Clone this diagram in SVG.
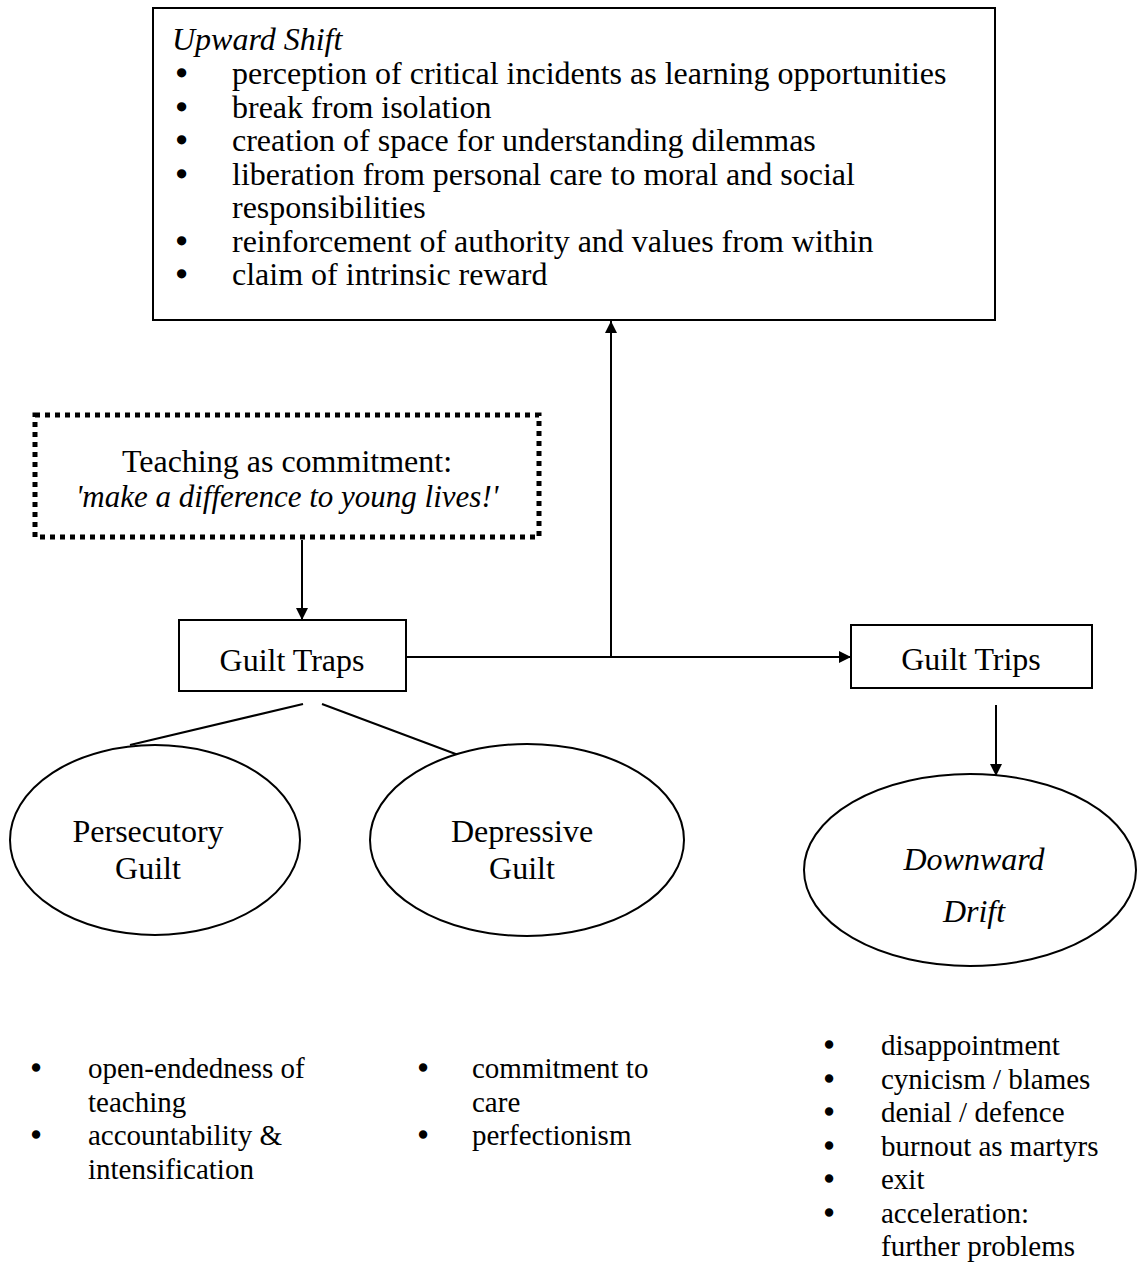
<svg xmlns="http://www.w3.org/2000/svg" width="1137" height="1263" viewBox="0 0 1137 1263">
<defs>
<style>
text{font-family:"Liberation Serif","Times New Roman",serif;font-size:32px;fill:#000}
.it{font-style:italic}
.box{fill:#fff;stroke:#000;stroke-width:2}
.dot{fill:none;stroke:#000;stroke-width:5;stroke-dasharray:5 5}
.ln{fill:none;stroke:#000;stroke-width:2}
.c{text-anchor:middle}
.b{font-size:32px;stroke:#000;stroke-width:1.6}
.s{font-size:29px}
.sb{font-size:29px;stroke:#000;stroke-width:1.4}
</style>
<marker id="ah" viewBox="0 0 10 10" refX="10" refY="5" markerWidth="12" markerHeight="12" markerUnits="userSpaceOnUse" orient="auto">
<path d="M0,0 L10,5 L0,10 z" fill="#000"/>
</marker>
</defs>
<rect width="1137" height="1263" fill="#fff"/>
<g id="connectors">
<line class="ln" x1="611" y1="657" x2="611" y2="321" marker-end="url(#ah)"/>
<line class="ln" x1="406" y1="657" x2="851" y2="657" marker-end="url(#ah)"/>
<line class="ln" x1="302" y1="540" x2="302" y2="620" marker-end="url(#ah)"/>
<line class="ln" x1="996" y1="705" x2="996" y2="776" marker-end="url(#ah)"/>
<line class="ln" x1="130" y1="745" x2="303" y2="704"/>
<line class="ln" x1="322" y1="704" x2="461" y2="756"/>
</g>
<g id="upward-shift">
<rect class="box" x="153" y="8" width="842" height="312"/>
<text class="it" x="172" y="50">Upward Shift</text>
<text class="b" x="176" y="84">•</text><text x="232" y="84">perception of critical incidents as learning opportunities</text>
<text class="b" x="176" y="118">•</text><text x="232" y="118">break from isolation</text>
<text class="b" x="176" y="151">•</text><text x="232" y="151">creation of space for understanding dilemmas</text>
<text class="b" x="176" y="185">•</text><text x="232" y="185">liberation from personal care to moral and social</text>
<text x="232" y="218">responsibilities</text>
<text class="b" x="176" y="252">•</text><text x="232" y="252">reinforcement of authority and values from within</text>
<text class="b" x="176" y="285">•</text><text x="232" y="285">claim of intrinsic reward</text>
</g>
<g id="commitment">
<rect class="dot" x="35" y="415" width="504" height="122"/>
<text class="c" x="287" y="472">Teaching as commitment:</text>
<text class="c it" x="287" y="507" style="font-size:31px">'make a difference to young lives!'</text>
</g>
<g id="guilt-traps">
<rect class="box" x="179" y="620" width="227" height="71"/>
<text class="c" x="292" y="671">Guilt Traps</text>
</g>
<g id="guilt-trips">
<rect class="box" x="851" y="625" width="241" height="63"/>
<text class="c" x="971" y="670">Guilt Trips</text>
</g>
<g id="persecutory">
<ellipse class="box" cx="155" cy="840" rx="145" ry="95"/>
<text class="c" x="148" y="842">Persecutory</text>
<text class="c" x="148" y="879">Guilt</text>
</g>
<g id="depressive">
<ellipse class="box" cx="527" cy="840" rx="157" ry="96"/>
<text class="c" x="522" y="842">Depressive</text>
<text class="c" x="522" y="879">Guilt</text>
</g>
<g id="downward-drift">
<ellipse class="box" cx="970" cy="870" rx="166" ry="96"/>
<text class="c it" x="974" y="870">Downward</text>
<text class="c it" x="974" y="922">Drift</text>
</g>
<g id="list-persecutory">
<text class="sb" x="31" y="1078">•</text><text class="s" x="88" y="1078">open-endedness of</text>
<text class="s" x="88" y="1112">teaching</text>
<text class="sb" x="31" y="1145">•</text><text class="s" x="88" y="1145">accountability &amp;</text>
<text class="s" x="88" y="1179">intensification</text>
</g>
<g id="list-depressive">
<text class="sb" x="418" y="1078">•</text><text class="s" x="472" y="1078">commitment to</text>
<text class="s" x="472" y="1112">care</text>
<text class="sb" x="418" y="1145">•</text><text class="s" x="472" y="1145">perfectionism</text>
</g>
<g id="list-downward">
<text class="sb" x="824" y="1055">•</text><text class="s" x="881" y="1055">disappointment</text>
<text class="sb" x="824" y="1089">•</text><text class="s" x="881" y="1089">cynicism / blames</text>
<text class="sb" x="824" y="1122">•</text><text class="s" x="881" y="1122">denial / defence</text>
<text class="sb" x="824" y="1156">•</text><text class="s" x="881" y="1156">burnout as martyrs</text>
<text class="sb" x="824" y="1189">•</text><text class="s" x="881" y="1189">exit</text>
<text class="sb" x="824" y="1223">•</text><text class="s" x="881" y="1223">acceleration:</text>
<text class="s" x="881" y="1256">further problems</text>
</g>
</svg>
